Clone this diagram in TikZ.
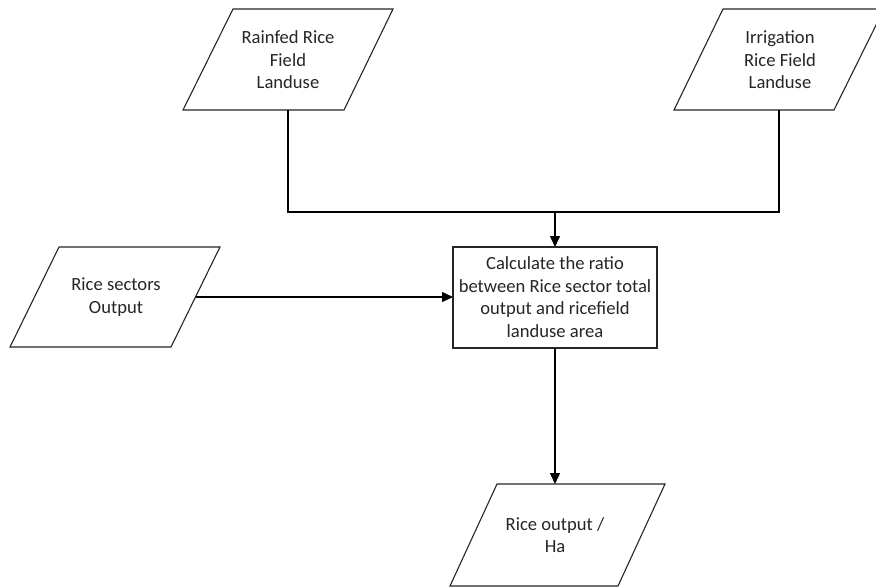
\documentclass[tikz,border=0pt]{standalone}
\usepackage{fontspec}
\setmainfont{Carlito}
\usetikzlibrary{arrows.meta}
\begin{document}
\begin{tikzpicture}[x=1pt,y=-1pt,
  outline/.style={draw=black!85,line width=1.1pt,fill=white,line join=miter},
  txt/.style={align=center,font=\fontsize{18.6}{22.6}\selectfont,text=black!85,inner sep=0pt},
  conn/.style={draw=black,line width=1.4pt},
  arr/.style={conn,-{Triangle[length=11pt,width=10pt]}}]
\useasboundingbox (0,0) rectangle (876,587);
% Parallelograms
\draw[outline] (233,9) -- (393,9) -- (344,110) -- (183,110) -- cycle;
\node[txt] (rain) at (288,60) {Rainfed Rice\\Field\\Landuse};
\coordinate (rainB) at (288,110);
\draw[outline] (723,9) -- (884,9) -- (834,110) -- (674,110) -- cycle;
\node[txt] (irr) at (780,60) {Irrigation\\Rice Field\\Landuse};
\coordinate (irrB) at (779,110);
\draw[outline] (59,247) -- (220,247) -- (171,347) -- (10,347) -- cycle;
\node[txt] (sect) at (116,297) {Rice sectors\\Output};
\coordinate (sectR) at (195.5,297);
\draw[outline] (497,484) -- (665,484) -- (618,586) -- (450,586) -- cycle;
\node[txt] (out) at (555,535) {Rice output /\\Ha};
\coordinate (outT) at (555,484);
% Process box
\draw[outline] (453,247) rectangle (657,348);
\node[txt] (calc) at (555,297) {Calculate the ratio\\between Rice sector total\\output and ricefield\\landuse area};
\coordinate (calcT) at (555,247);
\coordinate (calcL) at (453,297);
\coordinate (calcB) at (555,348);
% Connectors
\coordinate (merge) at (555,212);
\draw[conn] (rainB) |- (merge) -| (irrB);
\draw[arr] (merge) -- (calcT);
\draw[arr] (sectR) -- (calcL);
\draw[arr] (calcB) -- (outT);
\end{tikzpicture}
\end{document}
